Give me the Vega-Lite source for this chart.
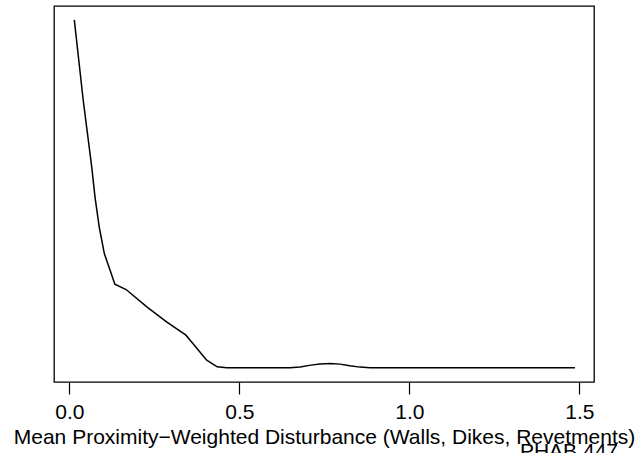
{
  "$schema": "https://vega.github.io/schema/vega-lite/v6.json",
  "width": 540,
  "height": 376,
  "autosize": {"type": "none"},
  "padding": {"left": 54, "top": 6, "right": 49, "bottom": 71},
  "background": "white",
  "config": {
    "view": {"stroke": "black", "strokeWidth": 1.3},
    "font": "Liberation Sans"
  },
  "title": {
    "text": "PHAB 447",
    "orient": "bottom",
    "anchor": "end",
    "frame": "group",
    "font": "Liberation Sans",
    "fontSize": 21,
    "fontWeight": "normal",
    "color": "black",
    "offset": -6,
    "dx": 24
  },
  "data": {
    "values": [
      {"x": 0.0147, "density": 3.487},
      {"x": 0.041, "density": 2.68},
      {"x": 0.066, "density": 2.013},
      {"x": 0.0756, "density": 1.713},
      {"x": 0.088, "density": 1.413},
      {"x": 0.103, "density": 1.147},
      {"x": 0.134, "density": 0.84},
      {"x": 0.167, "density": 0.787},
      {"x": 0.228, "density": 0.613},
      {"x": 0.286, "density": 0.463},
      {"x": 0.343, "density": 0.33},
      {"x": 0.375, "density": 0.2},
      {"x": 0.404, "density": 0.08},
      {"x": 0.435, "density": 0.013},
      {"x": 0.463, "density": 0.003},
      {"x": 0.649, "density": 0.003},
      {"x": 0.679, "density": 0.012},
      {"x": 0.71, "density": 0.03},
      {"x": 0.737, "density": 0.042},
      {"x": 0.767, "density": 0.047},
      {"x": 0.796, "density": 0.04},
      {"x": 0.825, "density": 0.024},
      {"x": 0.855, "density": 0.01},
      {"x": 0.884, "density": 0.003},
      {"x": 1.487, "density": 0.003}
    ]
  },
  "mark": {"type": "line", "color": "black", "strokeWidth": 1.5, "clip": false},
  "encoding": {
    "x": {
      "field": "x",
      "type": "quantitative",
      "scale": {"domain": [-0.045, 1.543], "nice": false, "zero": false},
      "axis": {
        "values": [0, 0.5, 1, 1.5],
        "format": ".1f",
        "domain": false,
        "grid": false,
        "ticks": true,
        "tickColor": "black",
        "tickSize": 12,
        "tickWidth": 1.2,
        "labelFont": "Liberation Sans",
        "labelFontSize": 21,
        "labelColor": "black",
        "labelPadding": 7.5,
        "labelFlush": false,
        "labelOverlap": false,
        "title": "Mean Proximity−Weighted Disturbance (Walls, Dikes, Revetments)",
        "titleFont": "Liberation Sans",
        "titleFontSize": 21,
        "titleFontWeight": "normal",
        "titleColor": "black",
        "titlePadding": 3.5
      }
    },
    "y": {
      "field": "density",
      "type": "quantitative",
      "scale": {"domain": [-0.139, 3.626], "nice": false, "zero": false},
      "axis": null
    }
  }
}
